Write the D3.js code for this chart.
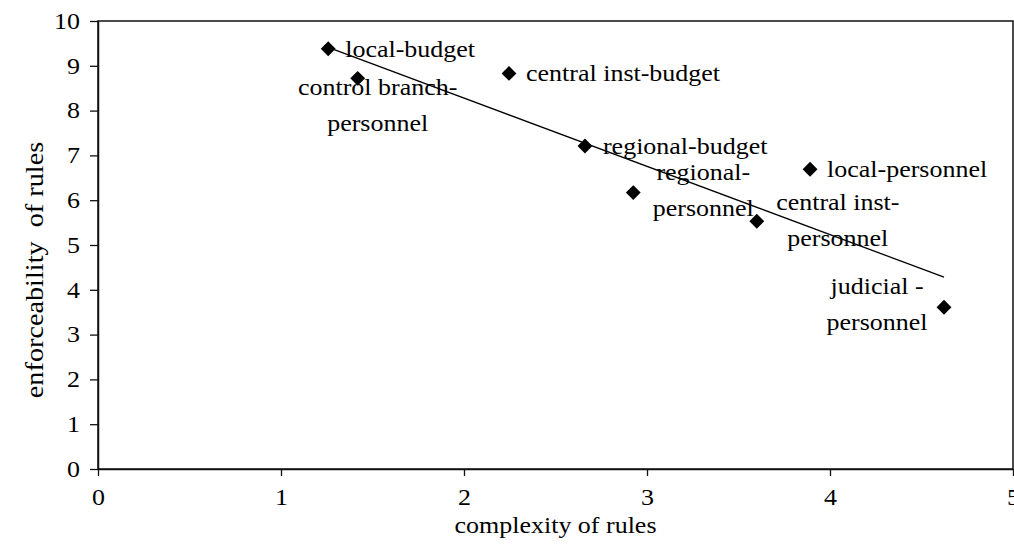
<!DOCTYPE html>
<html>
<head>
<meta charset="utf-8">
<script src="https://cdn.jsdelivr.net/npm/d3@7"></script>
<style>
  body { margin: 0; background: #fff; }
  text { font-family: "Liberation Serif", "Times New Roman", serif; fill: #000; }
</style>
</head>
<body>
<div class="chart"></div>
<script>
// data
var names = ["local-budget", "control branch-personnel", "central inst-budget", "regional-budget",
  "regional-personnel", "central inst-personnel", "local-personnel", "judicial-personnel"];
var complexity = [1.258, 1.419, 2.246, 2.661, 2.925, 3.600, 3.891, 4.623];
var enforceability = [9.38, 8.72, 8.83, 7.21, 6.17, 5.53, 6.69, 3.61];
var labelLines = [
  ["local-budget"],
  ["control branch-", "personnel"],
  ["central inst-budget"],
  ["regional-budget"],
  ["regional-", "personnel"],
  ["central inst-", "personnel"],
  ["local-personnel"],
  ["judicial -", "personnel"]
];
var xTicks = [0, 1, 2, 3, 4, 5];
var yTicks = [0, 1, 2, 3, 4, 5, 6, 7, 8, 9, 10];

// where each label sits relative to its point (pixels)
var labelLayout = [
  { dx: 17, dy: 0, anchor: "start" },
  { dx: 20, dy: 9, anchor: "middle" },
  { dx: 17, dy: 0, anchor: "start" },
  { dx: 18, dy: 0, anchor: "start" },
  { dx: 70, dy: -21, anchor: "middle" },
  { dx: 81, dy: -19, anchor: "middle" },
  { dx: 17, dy: 0, anchor: "start" },
  { dx: -67, dy: -21, anchor: "middle" }
];

var svgWidth = 1014;
var svgHeight = 549;
var margin = { top: 21, right: 1, bottom: 80, left: 98 };
var width = svgWidth - margin.left - margin.right;
var height = svgHeight - margin.top - margin.bottom;
var fontSize = 23;
var stretch = 1.13;   // the scan's type is a bit wider than it is tall
var lineGap = 36;

var svg = d3.select(".chart")
  .append("svg")
  .attr("width", svgWidth)
  .attr("height", svgHeight);

var chart = svg.append("g")
  .attr("transform", "translate(" + margin.left + "," + margin.top + ")");

var xScale = d3.scaleLinear().domain([0, 5]).range([0, width]);
var yScale = d3.scaleLinear().domain([0, 10]).range([height, 0]);

// plot area frame
chart.append("rect")
  .attr("x", 0)
  .attr("y", 0)
  .attr("width", width)
  .attr("height", height)
  .attr("fill", "none")
  .attr("stroke", "#111")
  .attr("stroke-width", 1.5);

// axes
var leftAxis = d3.axisLeft(yScale).tickValues(yTicks).tickFormat(d3.format("d"))
  .tickSize(8).tickSizeOuter(0).tickPadding(10);
var bottomAxis = d3.axisBottom(xScale).tickValues(xTicks).tickFormat(d3.format("d"))
  .tickSize(7).tickSizeOuter(0).tickPadding(13);

var yAxisG = chart.append("g").call(leftAxis);
var xAxisG = chart.append("g").attr("transform", "translate(0," + height + ")").call(bottomAxis);

[yAxisG, xAxisG].forEach(function(g) {
  g.select(".domain").attr("stroke", "#111").attr("stroke-width", 1.5);
  g.selectAll(".tick line").attr("stroke", "#111").attr("stroke-width", 1.3);
  g.selectAll(".tick text")
    .attr("font-size", fontSize)
    .attr("fill", "#000");
});

// keep the y tick text right edge at the same place after stretching
yAxisG.selectAll(".tick text")
  .attr("x", -18 / stretch)
  .attr("transform", "scale(" + stretch + ",1)");
xAxisG.selectAll(".tick text")
  .attr("transform", "scale(" + stretch + ",1)");

// linear trend line (least squares)
var mx = d3.mean(complexity);
var my = d3.mean(enforceability);
var sxy = d3.sum(complexity, function(d, i) { return (d - mx) * (enforceability[i] - my); });
var sxx = d3.sum(complexity, function(d) { return (d - mx) * (d - mx); });
var slope = sxy / sxx;
var intercept = my - slope * mx;
var xMin = d3.min(complexity);
var xMax = d3.max(complexity);

chart.append("line")
  .attr("x1", xScale(xMin))
  .attr("y1", yScale(intercept + slope * xMin))
  .attr("x2", xScale(xMax))
  .attr("y2", yScale(intercept + slope * xMax))
  .attr("stroke", "#000")
  .attr("stroke-width", 1.3);

// points
var points = names.map(function(n, i) {
  return { name: n, x: complexity[i], y: enforceability[i], lines: labelLines[i], lay: labelLayout[i] };
});

var diamond = d3.symbol().type(d3.symbolSquare).size(110);

chart.selectAll(".pt")
  .data(points)
  .enter()
  .append("path")
  .attr("class", "pt")
  .attr("d", diamond)
  .attr("transform", function(d) {
    return "translate(" + xScale(d.x) + "," + yScale(d.y) + ") rotate(45)";
  })
  .attr("fill", "#000");

// data labels
var labels = chart.selectAll(".lbl")
  .data(points)
  .enter()
  .append("g")
  .attr("class", "lbl");

labels.each(function(d) {
  var g = d3.select(this);
  var px = xScale(d.x) + d.lay.dx;
  var py = yScale(d.y) + d.lay.dy;
  d.lines.forEach(function(line, k) {
    g.append("text")
      .attr("transform", "translate(" + px + "," + (py + k * lineGap) + ") scale(" + stretch + ",1)")
      .attr("dy", "0.35em")
      .attr("text-anchor", d.lay.anchor)
      .attr("font-size", fontSize)
      .text(line);
  });
});

// axis titles
svg.append("text")
  .attr("transform", "translate(" + (margin.left + width / 2) + ",533) scale(" + stretch + ",1)")
  .attr("text-anchor", "middle")
  .attr("font-size", fontSize)
  .text("complexity of rules");

svg.append("text")
  .attr("transform", "translate(43,270) rotate(-90) scale(" + stretch + ",1)")
  .attr("text-anchor", "middle")
  .attr("font-size", 25)
  .style("white-space", "pre")
  .text("enforceability  of rules");
</script>
</body>
</html>
